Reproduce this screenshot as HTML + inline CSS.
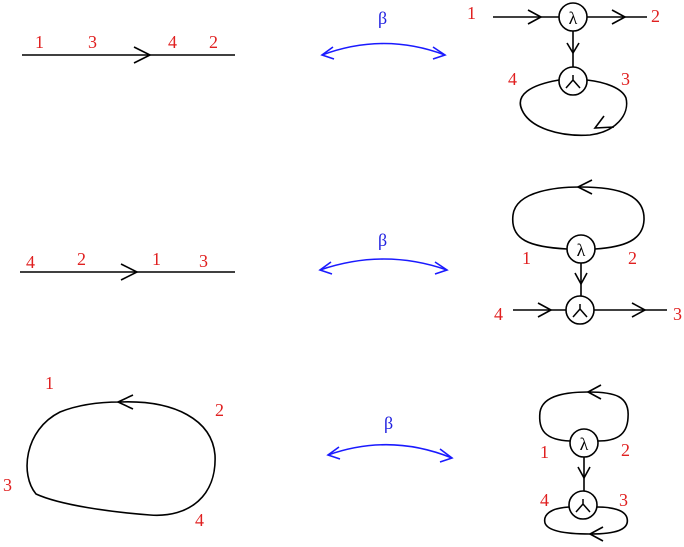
<!DOCTYPE html>
<html><head><style>
body{margin:0;background:#fff}
svg{display:block}
text{font-family:"Liberation Serif",serif;font-size:18px}
.r{fill:#e02020}
.b{fill:#2020e0}
</style></head><body>
<svg width="684" height="547" viewBox="0 0 684 547" fill="none" stroke="#000" stroke-width="1.6">
<!-- row1 left -->
<line x1="22" y1="55" x2="235" y2="55"/>
<polyline points="134,47 150,55 134,63"/>
<g class="r" stroke="none"><text x="35" y="48">1</text><text x="88" y="48">3</text><text x="168" y="48">4</text><text x="209" y="48">2</text></g>
<!-- row2 left -->
<line x1="20" y1="272" x2="235" y2="272"/>
<polyline points="121,264 137,272 121,280"/>
<g class="r" stroke="none"><text x="26" y="268">4</text><text x="77" y="265">2</text><text x="152" y="265">1</text><text x="199" y="267">3</text></g>
<!-- row3 left ellipse -->
<path d="M120,402 C175,400 212,420 215,455 C217,495 190,518 150,515 C110,512 60,505 36,494 C20,475 24,430 60,412 C80,404 100,402 120,402 Z"/>
<polyline points="133,395 118,402 133,409"/>
<g class="r" stroke="none"><text x="45" y="389">1</text><text x="215" y="416">2</text><text x="3" y="491">3</text><text x="195" y="526">4</text></g>
<!-- beta arrows -->
<g stroke="#1a1aff">
<path d="M322,55 Q384,32 445,55"/><polyline points="333,47 322,55 334,59"/><polyline points="433,47 445,55 433,59"/>
<path d="M320,270 Q384,248 447,270"/><polyline points="331,262 320,270 332,274"/><polyline points="435,262 447,270 435,274"/>
<path d="M328,455 Q390,433 452,458"/><polyline points="339,447 328,455 340,459"/><polyline points="440,449 452,458 440,462"/>
</g>
<g class="b" stroke="none"><text x="378" y="24">β</text><text x="378" y="246">β</text><text x="384" y="429">β</text></g>
<!-- row1 right -->
<circle cx="573" cy="17" r="14"/>
<line x1="493" y1="17" x2="559" y2="17"/><polyline points="528,10 541,17 528,24"/>
<line x1="587" y1="17" x2="647" y2="17"/><polyline points="612,10 625,17 612,24"/>
<line x1="573" y1="31" x2="573" y2="67"/><polyline points="567,43 573,53 579,43"/>
<circle cx="573" cy="81" r="14"/>
<path d="M559,80 C530,85 515,95 522,110 C530,128 560,137 590,135 C615,132 630,115 626,98 C622,88 605,82 587,80"/>
<polyline points="604,116 595,128 614,127"/>
<g class="r" stroke="none"><text x="467" y="19">1</text><text x="651" y="22">2</text><text x="508" y="85">4</text><text x="621" y="85">3</text></g>
<!-- row2 right -->
<circle cx="581" cy="249" r="14"/>
<path d="M567,249 C530,247 510,240 513,215 C516,190 560,187 580,187 C620,187 645,195 644,220 C643,240 625,247 595,249"/>
<polyline points="592,180 578,187 592,194"/>
<line x1="581" y1="263" x2="581" y2="296"/><polyline points="575,273 581,284 587,273"/>
<circle cx="580" cy="310" r="14"/>
<line x1="513" y1="310" x2="566" y2="310"/><polyline points="538,303 551,310 538,317"/>
<line x1="594" y1="310" x2="667" y2="310"/><polyline points="632,303 645,310 632,317"/>
<g class="r" stroke="none"><text x="522" y="264">1</text><text x="628" y="264">2</text><text x="494" y="320">4</text><text x="673" y="320">3</text></g>
<!-- row3 right -->
<circle cx="584" cy="443" r="14"/>
<path d="M570,441 C545,440 538,430 540,412 C543,394 570,392 588,392 C615,392 630,396 628,418 C627,436 615,441 598,441"/>
<polyline points="601,385 588,392 601,399"/>
<line x1="584" y1="457" x2="584" y2="491"/><polyline points="578,467 584,478 590,467"/>
<circle cx="583" cy="505" r="14"/>
<path d="M569,507 C550,508 543,515 545,523 C548,532 570,534 590,534 C615,534 630,530 627,518 C625,510 612,507 597,507"/>
<polyline points="603,527 590,534 603,541"/>
<g class="r" stroke="none"><text x="540" y="458">1</text><text x="621" y="456">2</text><text x="540" y="506">4</text><text x="619" y="506">3</text></g>
<!-- symbols -->
<g stroke="none" fill="#000" style="font-family:'Liberation Serif',serif;font-size:20px">
<text x="573" y="24" text-anchor="middle">λ</text>
<text x="581" y="256" text-anchor="middle">λ</text>
<text x="584" y="450" text-anchor="middle">λ</text>
</g>
<g stroke-width="1.5">
<path d="M573,75 L573,80 M573,80 L566,88 M573,80 L580,88"/>
<path d="M580,304 L580,309 M580,309 L573,317 M580,309 L587,317"/>
<path d="M583,499 L583,504 M583,504 L576,512 M583,504 L590,512"/>
</g>
</svg>
</body></html>
